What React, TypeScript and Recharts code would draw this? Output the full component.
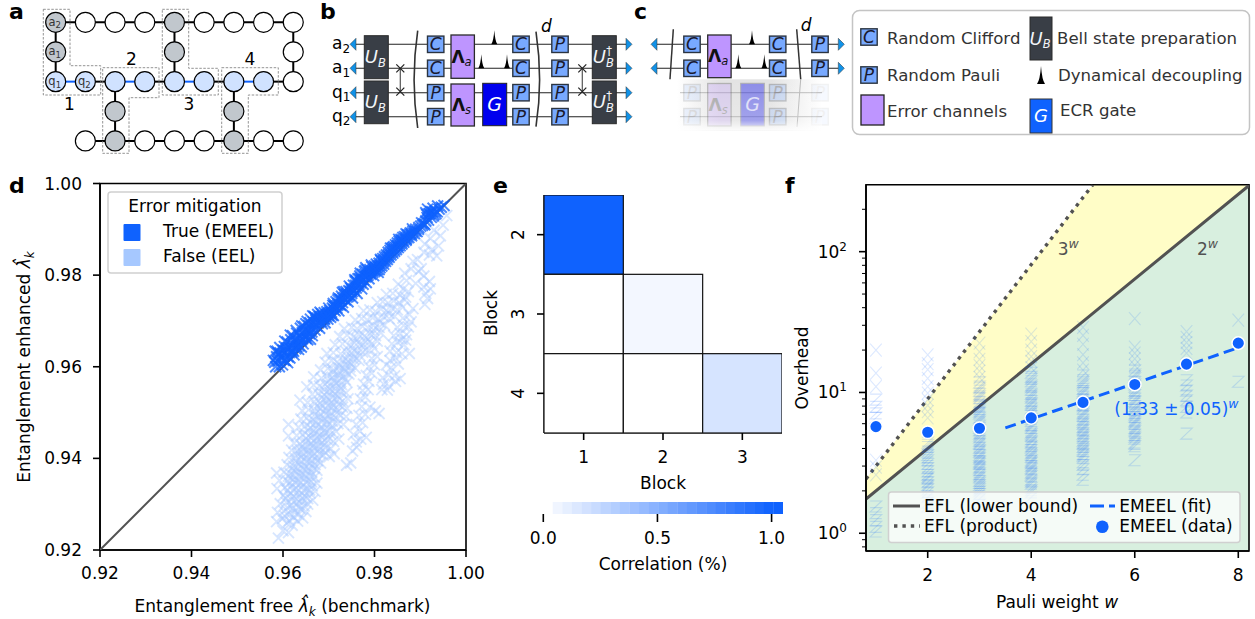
import React from 'react';
import { ScatterChart, ComposedChart, Scatter, Line, Area, XAxis, YAxis, Label, ReferenceArea } from 'recharts';

const BLUE = '#0f62fe';
const LIGHT = '#a6c8ff';
const INK = '#525252';
const FS = 17;

// ---------- panel a (lattice, in grid units) ----------
const latticeGrey = [[0,0],[4,0],[0,1],[4,1],[2,3],[6,3],[2,4],[6,4]];
const latticeBlue = [[0,2],[1,2],[2,2],[3,2],[4,2],[5,2],[6,2],[7,2]];
const latticeWhite = [[1,0],[2,0],[3,0],[5,0],[6,0],[7,0],[8,0],[8,1],[8,2],[1,4],[3,4],[4,4],[5,4],[7,4],[8,4]];
const latticeBlackEdges = [
  [[0,0],[8,0]],[[0,0],[0,2]],[[4,0],[4,2]],[[8,0],[8,2]],[[1,2],[2,2]],[[3,2],[4,2]],[[5,2],[6,2]],[[7,2],[8,2]],
  [[2,2],[2,4]],[[6,2],[6,4]],[[1,4],[8,4]],
];
const latticeBlueEdges = [[[0,2],[1,2]],[[2,2],[3,2]],[[4,2],[5,2]],[[6,2],[7,2]]];
const latticeNames: Record<string,[string,string]> = { '0,0':['a','2'], '0,1':['a','1'], '0,2':['q','1'], '1,2':['q','2'] };

// ---------- panel d ----------
const diagonal = [920, 1000];
const emeelPoints = [
[958.2,961.0],[958.4,960.0],[958.6,962.2],[958.9,961.2],[959.2,960.0],[959.4,963.0],[959.7,961.8],[959.9,960.4],[960.1,962.8],[960.3,964.4],[960.5,961.4],[960.7,963.4],[960.9,965.4],[961.1,962.2],[961.3,964.2],[961.5,961.9],[961.7,965.9],[961.9,963.2],[962.1,966.8],[962.2,964.8],[962.4,962.6],[962.6,966.0],[962.8,963.9],[963.0,967.3],[963.2,965.2],[963.4,963.8],[963.6,966.8],[963.8,968.4],[964.0,965.6],[964.2,967.4],[964.4,965.0],[964.6,968.8],[964.8,966.6],[965.0,969.4],[965.2,967.8],[965.4,965.9],[965.6,969.0],[965.8,967.2],[966.0,970.4],[966.2,968.4],[966.4,966.8],[966.6,969.8],[966.8,971.0],[967.0,968.0],[967.2,970.2],[967.4,968.9],[967.6,971.4],[967.8,969.6],[968.0,968.4],[968.2,970.9],[968.4,971.6],[968.6,969.4],[968.8,970.4],[969.0,971.8],[969.2,969.6],[969.4,971.0],[969.6,972.0],[969.8,970.4],[970.0,971.5],[970.2,972.3],[970.4,970.8],[970.6,971.9],[970.8,972.8],[971.0,971.2],[971.2,973.2],[971.4,972.2],[971.6,974.2],[971.8,972.8],[972.0,973.8],[972.2,972.2],[972.4,974.8],[972.6,973.4],[972.8,975.4],[973.0,974.0],[973.2,973.0],[973.4,975.8],[973.6,974.6],[973.8,976.4],[974.0,975.2],[974.2,974.2],[974.4,976.6],[974.6,975.6],[974.8,977.2],[975.0,976.0],[975.2,975.0],[975.4,977.8],[975.6,976.6],[975.8,978.6],[976.0,977.2],[976.2,976.0],[976.4,979.2],[976.6,978.0],[976.8,979.8],[977.0,978.4],[977.2,977.0],[977.4,980.2],[977.6,979.0],[977.8,980.8],[978.0,979.6],[978.2,978.4],[978.4,981.2],[978.6,980.0],[978.8,979.2],[979.0,981.2],[979.2,980.2],[979.4,981.8],[979.6,980.6],[979.8,979.9],[980.0,982.0],[980.2,981.0],[980.4,982.4],[980.6,981.2],[980.8,980.6],[981.0,982.6],[981.2,981.6],[981.4,983.2],[981.6,982.0],[981.8,983.6],[982.0,982.4],[982.2,984.0],[982.4,983.0],[982.6,984.4],[982.8,983.4],[983.0,985.0],[983.2,983.9],[983.4,985.4],[983.6,984.4],[983.8,985.8],[984.0,984.8],[984.2,986.2],[984.4,985.2],[984.6,986.6],[984.8,985.6],[985.0,987.0],[985.2,986.0],[985.4,987.4],[985.6,986.4],[985.8,987.8],[986.0,986.8],[986.2,988.2],[986.4,987.2],[986.6,988.4],[986.9,987.6],[987.2,988.8],[987.5,988.2],[987.8,989.2],[988.1,988.6],[988.4,989.6],[988.7,989.1],[989.0,990.0],[989.3,989.5],[989.7,990.4],[990.1,990.7],[990.5,990.9],[990.8,991.2],[991.2,991.8],[991.5,992.6],[991.8,992.0],[992.1,993.4],[992.4,992.6],[992.7,993.8],[993.0,993.2],[993.3,994.0],[993.7,993.8],[994.1,994.4],[994.6,994.8],[995.2,995.2],
[959.0,963.0],[960.0,963.6],[961.0,960.9],[962.0,963.6],[963.0,964.4],[964.0,964.3],[965.0,966.2],[966.0,966.0],[967.0,970.8],[968.0,970.0],[969.0,970.6],[970.0,972.8],[971.0,973.8],[972.0,974.6],[973.0,976.2],[974.0,976.0],[975.0,976.8],[976.0,978.8],[977.0,979.4],[978.0,981.0],[979.0,980.4],[980.0,980.8],[981.0,981.2],[982.0,983.2],[983.0,984.2],[984.0,986.0],[985.0,986.4],[986.0,987.6],[987.0,987.9],[988.0,988.9],
];
const emeelDense = [
[958.7,963.4],[959.5,962.1],[960.2,961.4],[960.8,964.1],[961.4,963.1],[961.8,964.6],[962.3,963.4],[962.7,965.3],[963.1,966.1],[963.5,964.6],[963.9,966.2],[964.3,966.1],[964.7,967.8],[965.1,966.8],[965.5,968.2],[965.9,969.6],[966.3,967.6],[966.7,968.9],[967.1,969.5],[967.5,970.6],[967.9,970.9],[968.3,969.9],[968.7,971.1],[969.1,970.4],[969.5,971.4],[969.9,971.1],[970.3,971.7],[970.7,971.3],[971.1,972.5],[971.5,973.2],[971.9,973.4],[972.3,973.6],[972.7,974.6],[973.1,974.9],[973.5,975.2],[973.9,975.7],[974.3,975.4],[974.7,976.4],[975.1,976.4],[975.5,977.0],[975.9,977.8],[976.3,977.6],[976.7,979.2],[977.1,979.0],[977.5,978.0],[977.9,980.2],[978.3,979.8],[978.7,980.6],[979.1,980.8],[979.5,981.0],[979.9,981.3],[980.3,981.7],[980.7,982.0],[981.1,982.1],[981.5,982.6],[981.9,982.9],[982.3,983.5],[982.7,983.9],[983.1,984.5],[983.5,984.9],[983.9,985.2],[984.3,985.6],[984.7,986.1],[985.1,986.4],[985.5,986.9],[985.9,987.2],[986.3,987.6],[986.7,988.0],[987.1,988.3],[987.6,988.8],[988.2,989.2],[988.9,989.6],[989.6,990.0],[990.3,991.4],[991.0,991.0],[991.4,993.2],[991.9,993.4],[992.3,993.9],[992.8,992.9],[993.4,993.4],
[957.9,961.4],[958.3,963.4],[959.3,964.2],[960.4,965.6],[961.6,966.9],[962.9,967.9],[964.1,968.9],[965.3,969.9],[966.5,971.1],[968.1,971.9],[970.9,973.4],[972.1,975.0],[973.3,976.4],[974.5,977.6],[975.7,979.0],[976.9,980.4],[978.1,981.6],[979.3,982.2],[981.3,983.4],[983.5,985.9],[985.3,987.8],[986.9,989.0],[988.3,990.1],[991.2,993.6],[991.6,994.4],[992.8,994.6],[993.8,995.1],
];
const eelPoints = [
[959,922.6],[960,924.2],[961.2,923.8],[958.6,926.2],[959.8,926.8],[960.9,925.9],[962,925.4],[963.2,926.3],[964.3,927],[958.8,928.2],[960.2,928.5],[961.5,927.8],[962.6,928.2],[963.9,928.9],[965,928.4],
[959.4,930.1],[960.7,930.4],[961.9,929.8],[963,930.2],[964.2,930.6],[965.4,930],[966.5,930.9],[960.1,931.9],[961.3,932.2],[962.4,931.7],[963.6,932.1],[964.8,931.8],[965.9,932.4],[967,932.8],
[958.7,933.4],[960.4,933.6],[961.7,933.9],[962.9,933.5],[964.1,933.8],[965.3,933.4],[966.4,934],[967.4,934.6],[959.2,935.2],[960.9,935.1],[962.2,935.4],[963.4,935.2],[964.6,935.6],[965.8,935.3],[966.9,935.9],[958.6,936.8],[960.2,937],[961.6,936.6],[962.8,937.1],[964,936.8],[965.2,937.2],[966.3,937],[967.4,937.4],
[960.9,938.6],[962.3,938.3],[963.5,938.7],[964.7,938.4],[965.9,938.9],[967,938.6],[968.2,939],[973.9,938.5],[974.8,939],[961.3,940.2],[962.7,940],[964,940.3],[965.2,940.1],[966.4,940.5],[967.6,940.2],[968.8,940.7],[970.1,940.4],[971.2,941],
[961.9,941.8],[963.2,941.6],[964.4,942],[965.6,941.7],[966.8,942.2],[968,941.9],[969.2,942.3],[970.4,942.1],[975.2,941.6],[976.1,942.4],[962.4,943.3],[963.7,943.2],[965,943.6],[966.2,943.3],[967.4,943.8],[968.6,943.5],[969.8,944],[971,943.7],[972.2,944.2],[976,943.6],[977,944.2],
[961.2,944.9],[963,945],[964.3,945.2],[965.6,944.9],[966.8,945.4],[968,945.1],[969.2,945.6],[970.4,945.3],[971.6,945.9],[975.4,945.2],[976.8,945.9],[978.2,944.6],
[961.2,947.4],[963.4,946.8],[964.8,947],[966,946.7],[967.2,947.2],[968.4,946.9],[969.6,947.4],[970.8,947.1],[972,947.6],[973.2,947.4],[976,947.4],[977.4,947.8],
[963.9,948.6],[965.2,948.8],[966.5,948.5],[967.8,949],[969,948.7],[970.2,949.2],[971.4,948.9],[972.6,949.4],[973.8,949.1],[976.6,949.4],[978,949.6],[980.2,950.4],[964.2,950.4],[965.6,950.6],[966.9,950.3],[968.2,950.8],[969.4,950.5],[970.6,951],[971.8,950.7],[973,951.2],[974,950.9],[977.2,951.3],[979,951.2],[981,949.8],
[963.7,952.7],[965.4,952.2],[966.8,952.4],[968.1,952.1],[969.4,952.6],[970.6,952.3],[971.8,952.8],[973,952.5],[974.2,953],[976.9,953],[978,953.4],[966.4,954],[967.7,954.2],[969,953.9],[970.2,954.4],[971.4,954.1],[972.6,954.6],[973.8,954.3],[977.4,954.8],[978.6,955],
[965.2,955.6],[966.7,956],[968,955.8],[969.2,956.2],[970.4,955.9],[971.6,956.4],[972.8,956.1],[974,956.6],[977.6,956.2],[978.8,956.8],[982,956.2],[983.2,955.7],[984.6,956.8],[966.7,957.8],[968.4,957.5],[969.6,958],[970.8,957.7],[972,958.2],[973.2,957.9],[974.4,958.4],[978.2,958.1],[979.4,958.6],[981.8,957.6],[983,958.2],[984.4,958],[985.6,957.4],
[968.2,959.3],[969.8,959.6],[971,959.3],[972.2,959.8],[973.4,959.5],[974.6,960],[975.8,959.7],[978.8,960],[980,960.4],[983.6,959.8],[969.2,961],[970.6,961.3],[971.8,961],[973,961.5],[974.2,961.2],[975.4,961.7],[976.6,961.4],[979.4,961.8],[980.6,962.2],[983.4,961.4],[984.6,961.9],
[969.6,962.9],[971,963.1],[972.6,962.8],[973.8,963.3],[975,963],[976.2,963.5],[977.4,963.2],[978.8,963.6],[980,964],[983.4,963.4],[984.8,963.1],[986,962.8],[987.6,962.9],[971.4,964.8],[973,965],[974.4,964.7],[975.6,965.2],[976.8,964.9],[978,965.4],[979.4,965],[980.6,965.6],[983.8,965],[985,965.4],[986.4,964.8],
[972.4,966.6],[974,966.9],[975.4,966.5],[976.6,967],[977.8,966.7],[979,967.2],[980.2,966.8],[981.4,967.4],[984.2,966.8],[985.6,967.3],[987,967],[973.4,968.3],[975,968.6],[976.2,968.3],[977.4,968.8],[978.6,968.5],[979.8,969],[981,968.6],[982.2,969.1],[985,968.6],[986.4,969],[987.4,968.7],
[975.8,970.2],[977.2,970.5],[978.4,970.2],[979.6,970.7],[980.8,970.4],[982,970.9],[983.2,970.5],[984.4,971],[986.2,970.6],[987.6,971.4],[977.6,972.2],[979,972.4],[980.2,972.1],[981.4,972.6],[982.6,972.3],[983.8,972.8],[985,972.4],[986.2,973],[988.4,972.7],[980.6,974],[981.8,974.2],[983,973.9],[984.2,974.4],[985.4,974],[986.6,974.6],[991,973.6],[991.6,974.9],[982.6,975.8],[984,976],[985.6,975.6],[986.3,977],[987.4,976.4],[991.2,976],[992.2,977],[990.8,977.4],[985.2,978],[987,978.8],[992,978.6],[986.6,980.4],[988,981.4],[989.6,980.8],[990.2,981.4],[988.4,983],[990.8,985],[992,984.4],[993.6,984.2],[991,986.8],[992.2,988],[994,986.4],[993,989.8],[995,990.9],[995.8,993],
];
const eelDense = [
[960.4,927.4],[961.4,926.4],[962.4,927.1],[963.4,927.8],[961,929.2],[962.2,929.1],[963.4,929.4],[964.6,929.6],[960.6,931.2],[961.8,931],[963,931.1],[964.2,931.3],[965.4,931.2],[961,933],[962.2,932.9],[963.4,933],[964.6,932.9],[965.8,933.1],[961.4,934.6],[962.6,934.7],[963.8,934.6],[965,934.8],[966.2,934.9],[961.2,936.1],[962.4,936.2],[963.6,936.1],[964.8,936.3],[966,936.2],[962,937.8],[963.2,937.8],[964.4,937.7],[965.6,937.9],[966.8,937.9],[962.8,939.4],[964,939.4],[965.2,939.3],[966.4,939.5],[967.6,939.5],[963.2,941],[964.4,941],[965.6,941],[966.8,941.1],[968,941.1],[969.2,941.3],[964.2,942.6],[965.4,942.6],[966.6,942.7],[967.8,942.7],[969,942.9],[965,944.3],[966.2,944.4],[967.4,944.4],[968.6,944.5],[969.8,944.7],[965.4,946],[966.6,946],[967.8,946],[969,946.1],[970.2,946.2],[966,947.8],[967.2,947.9],[968.4,947.9],[969.6,948],[970.8,948.1],[967,949.6],[968.2,949.7],[969.4,949.7],[970.6,949.9],[971.8,950],[967.4,951.4],[968.6,951.5],[969.8,951.5],[971,951.6],[972.2,951.8],[968.4,953.2],[969.6,953.3],[970.8,953.3],[972,953.5],[969,955],[970.2,955.1],[971.4,955.2],[972.6,955.3],[970,956.9],[971.2,957],[972.4,957],[973.6,957.2],[971,958.8],[972.4,958.9],[973.6,958.9],[974.8,959.1],[972.4,960.4],[973.6,960.5],[974.8,960.6],[975.6,962.2],[974.2,962.1],[976.8,962.4],[977.6,964.2],[975.2,964],[978.6,966],[976.2,966],[979.8,968],[981.2,969.7],[983.2,971.6],
[981.6,955],[982.8,954.9],[986.8,965.8],[982.6,960.4],[985.2,960.6],[986,966],[988,969.8],[986.8,975.2],[989,978.2],[990.8,979.8],[989.4,983.4],[992.6,985.6],[994.4,988.6],
];

// ---------- panel e ----------
const blockColumns = [1, 2, 3];
const blockRows = [2, 3, 4];
const correlationCells = [
  { x: 1, y: 2, v: 1.0 }, { x: 1, y: 3, v: 0 }, { x: 2, y: 3, v: 0.05 },
  { x: 1, y: 4, v: 0 }, { x: 2, y: 4, v: 0 }, { x: 3, y: 4, v: 0.17 },
];
const colorbarLevels = [0.063,0.105,0.147,0.189,0.231,0.273,0.315,0.357,0.399,0.441,0.483,0.525,0.567,0.609,0.651,0.693,0.735,0.777,0.819,0.861,0.903,0.945,0.987,1.029];
const colorbarTicks = [0, 0.5, 1];

// ---------- panel f ----------
const eflW = [0.808, 5.19, 8.207];
const eflLower = [1.75, 36.5, 295];
const eflProduct = [2.43, 299, 299];
const fitW = [3.5, 8];
const fitValues = [5.6, 20.8];
const pauliW = [1, 2, 3, 4, 5, 6, 7, 8];
const emeelOverhead = [5.72, 5.22, 5.57, 6.6, 8.5, 11.4, 15.9, 22.4];
const overheadCrosses: [number, number[]][] = [
  [1, [20, 13.7, 11, 3.3, 2.95, 2.6]],
  [2, [18.5, 16, 14.5, 12.6, 11, 9.9, 8.9, 8.1, 7.3, 6.6]],
  [3, [22.4, 19.4, 17.2, 15.5, 14.2, 12.8]],
  [4, [26, 23, 20, 18, 16.6, 15]],
  [5, [29, 25.4, 22, 18.6, 16.2, 14.4]],
  [6, [33.5, 21, 19, 17.3, 15.6]],
  [7, [27, 24.6, 22.6, 20.6, 19]],
  [8, [32.7]],
];
const overheadZigzags: [number, number[]][] = [
  [1, [8.9, 7.9, 7.1, 6.6, 1.55, 1.39, 1.24, 1.11, 1.03]],
  [2, [4.4, 4.1, 3.8, 3.6, 3.3, 3.1, 2.9, 2.75, 2.6, 2.45, 2.3, 2.2, 2.05, 1.95, 1.8, 1.65, 1.55, 4.25, 3.45, 2.5, 2.15]],
  [3, [11.8, 11, 10.3, 9.7, 9.1, 8.5, 8, 7.6, 7.1, 6.6, 6.2, 5.8, 5.4, 5.1, 4.8, 4.55, 4.3, 4.05, 3.8, 3.6, 3.4, 3.25, 3.1, 2.95, 2.8, 2.65, 2.5, 2.35, 2.2, 2.05, 1.9, 1.75, 1.6,
       10.7, 9.4, 8.2, 7.3, 6.4, 5.6, 4.95, 4.4, 3.9, 3.5, 3.18, 2.88, 2.58, 2.28, 2.12, 1.98]],
  [4, [13.8, 12.9, 12, 11.2, 10.5, 9.8, 9.2, 8.7, 8.2, 7.7, 7.2, 6.8, 6.3, 5.9, 5.6, 5.2, 4.9, 4.65, 4.4, 4.15, 3.9, 3.7, 3.5, 3.3, 3.15, 3, 2.85, 2.7, 2.55, 2.4, 2.25, 2.1, 1.95, 1.8,
       12.5, 10.9, 9.5, 8.4, 7.4, 6.5, 5.75, 5.05, 4.5, 4.05, 3.6, 3.22, 2.92, 2.62, 2.33, 2.02]],
  [5, [13.2, 12.2, 11.4, 10.6, 9.9, 9.3, 8.8, 8.2, 7.7, 7.2, 6.8, 6.4, 6, 5.7, 5.4, 5.1, 4.8, 4.55, 4.3, 4.1, 3.85, 3.65, 3.45, 3.2, 2.85, 2.6, 2.4,
       11.8, 10.2, 9, 8, 7, 6.2, 5.55, 4.95, 4.42, 3.95, 3.55, 3.05]],
  [6, [14.3, 13.4, 12.6, 11.8, 11, 10.3, 9.6, 9, 8.5, 8, 7.5, 7.1, 6.7, 6.3, 6, 5.6, 5.3, 5, 4.7, 4.4, 4.15, 3.3,
       13, 11.4, 9.9, 8.7, 7.7, 6.9, 6.15, 5.45, 4.85, 4.3]],
  [7, [12.2, 11.2, 10.3, 9.5, 8.8, 7.9, 7.2, 5.1]],
  [8, [11.9]],
];

const f1 = (v: number) => v.toFixed(2);
const colorFor = (v: number) => {
  const c = (a: number, b: number) => Math.round(a + (b - a) * v);
  return v <= 0 ? '#ffffff' : `rgb(${c(255, 15)},${c(255, 98)},${c(255, 254)})`;
};

const CrossMark = (stroke: string, opacity: number, rx: number, ry: number, w: number) => (p: any) => (
  <path d={`M${p.cx - rx} ${p.cy - ry}L${p.cx + rx} ${p.cy + ry}M${p.cx - rx} ${p.cy + ry}L${p.cx + rx} ${p.cy - ry}`}
    stroke={stroke} strokeOpacity={opacity} strokeWidth={w} fill="none" />
);
const ZigMark = (stroke: string, opacity: number, rx: number, ry: number, w: number) => (p: any) => (
  <path d={`M${p.cx - rx} ${p.cy - ry}L${p.cx + rx} ${p.cy - ry}L${p.cx - rx} ${p.cy + ry}L${p.cx + rx} ${p.cy + ry}`}
    stroke={stroke} strokeOpacity={opacity} strokeWidth={w} fill="none" />
);

const tickStyle = { fontSize: FS, fill: '#000' };
const axisLine = { stroke: '#000', strokeWidth: 1.6 };
const tickLine = { stroke: '#000', strokeWidth: 1.6 };

const at = (left: number, top: number): React.CSSProperties => ({ position: 'absolute', left, top });

function LatticeChart() {
  const node = (fill: string) => (p: any) => {
    const k = `${p.payload.x},${p.payload.y}`;
    const n = latticeNames[k];
    return (
      <g>
        <circle cx={p.cx} cy={p.cy} r={10} fill={fill} stroke="#000" strokeWidth={1.2} />
        {n && <text x={p.cx - 1} y={p.cy + 3.5} textAnchor="middle" fontSize={11.5} fill="#333">{n[0]}<tspan fontSize={8.5} dy={2.5}>{n[1]}</tspan></text>}
      </g>
    );
  };
  const toPts = (l: number[][]) => l.map(([x, y]) => ({ x, y }));
  return (
    <div style={at(0, 0)}>
      <ScatterChart width={320} height={165} margin={{ left: 0, right: 0, top: 0, bottom: 0 }}>
        <XAxis type="number" dataKey="x" hide domain={[-1.875, 8.9]} allowDataOverflow />
        <YAxis type="number" dataKey="y" hide domain={[-0.752, 4.81]} reversed allowDataOverflow />
        {latticeBlackEdges.map((e, i) => (
          <Scatter key={'k' + i} data={toPts(e)} line={{ stroke: '#000', strokeWidth: 2 }} shape={() => null as any} isAnimationActive={false} />
        ))}
        {latticeBlueEdges.map((e, i) => (
          <Scatter key={'b' + i} data={toPts(e)} line={{ stroke: BLUE, strokeWidth: 2 }} shape={() => null as any} isAnimationActive={false} />
        ))}
        <Scatter data={toPts(latticeWhite)} shape={node('#ffffff')} isAnimationActive={false} />
        <Scatter data={toPts(latticeGrey)} shape={node('#c1c7cd')} isAnimationActive={false} />
        <Scatter data={toPts(latticeBlue)} shape={node('#d0e2ff')} isAnimationActive={false} />
      </ScatterChart>
    </div>
  );
}

function ScatterD() {
  const toPts = (l: number[][]) => l.map(([x, y]) => ({ x: x / 1000, y: y / 1000 }));
  const diag = diagonal.map((v) => ({ x: v / 1000, y: v / 1000 }));
  const ticks = [0.92, 0.94, 0.96, 0.98, 1];
  return (
    <div style={at(0, 170)}>
      <ScatterChart width={500} height={449} margin={{ left: 40, right: 34, top: 13.5, bottom: 39 }}>
        <XAxis type="number" dataKey="x" domain={[0.92, 1]} ticks={ticks} tickFormatter={f1} interval={0} allowDataOverflow height={30}
          tick={tickStyle} axisLine={axisLine} tickLine={tickLine} tickSize={7} tickMargin={10}>
          <Label content={() => (
            <text x={282.5} y={442} textAnchor="middle" fontSize={FS} fill="#000">Entanglement free <tspan fontStyle="italic">λ̂</tspan><tspan fontSize={12} dy={4} fontStyle="italic">k</tspan><tspan dy={-4}> (benchmark)</tspan></text>
          )} />
        </XAxis>
        <YAxis type="number" dataKey="y" domain={[0.92, 1]} ticks={ticks} tickFormatter={f1} interval={0} allowDataOverflow width={60}
          tick={tickStyle} axisLine={axisLine} tickLine={tickLine} tickSize={7} tickMargin={11}>
          <Label content={() => (
            <text transform="translate(30,197) rotate(-90)" textAnchor="middle" fontSize={FS} fill="#000">Entanglement enhanced <tspan fontStyle="italic">λ̂</tspan><tspan fontSize={12} dy={4} fontStyle="italic">k</tspan></text>
          )} />
        </YAxis>
        <Scatter data={toPts(eelPoints)} shape={CrossMark(LIGHT, 0.45, 5.5, 5.5, 1.9)} isAnimationActive={false} />
        <Scatter data={toPts(eelDense)} shape={CrossMark(LIGHT, 0.45, 5.5, 5.5, 1.9)} isAnimationActive={false} />
        <Scatter data={diag} line={{ stroke: INK, strokeWidth: 2 }} shape={() => null as any} isAnimationActive={false} />
        <Scatter data={toPts(emeelPoints)} shape={CrossMark(BLUE, 0.75, 5.5, 5.5, 2)} isAnimationActive={false} />
        <Scatter data={toPts(emeelDense)} shape={CrossMark(BLUE, 0.75, 5.5, 5.5, 2)} isAnimationActive={false} />
        <ReferenceArea x1={0.92} x2={1} y1={0.92} y2={1} fill="none" stroke="#000" strokeWidth={1.6} ifOverflow="visible" />
      </ScatterChart>
    </div>
  );
}

function HeatE() {
  const cell = (p: any) => (
    <rect x={p.cx - 39.67} y={p.cy - 39.67} width={79.33} height={79.33} fill={colorFor(p.payload.v)} stroke="#111" strokeWidth={1.2} />
  );
  return (
    <div style={at(480, 170)}>
      <ScatterChart width={320} height={330} margin={{ left: 24, right: 18, top: 25, bottom: 37 }}>
        <XAxis type="number" dataKey="x" domain={[0.5, 3.5]} ticks={blockColumns} interval={0} allowDataOverflow height={30}
          tick={tickStyle} axisLine={axisLine} tickLine={tickLine} tickSize={7} tickMargin={11}>
          <Label content={() => <text x={183} y={319} textAnchor="middle" fontSize={FS} fill="#000">Block</text>} />
        </XAxis>
        <YAxis type="number" dataKey="y" domain={[1.5, 4.5]} reversed ticks={blockRows} interval={0} allowDataOverflow width={40}
          axisLine={axisLine} tickLine={false} tickSize={0} tickMargin={0}
          tick={(p: any) => (
            <g>
              <line x1={p.x - 7} x2={p.x} y1={p.y} y2={p.y} stroke="#000" strokeWidth={1.6} />
              <text transform={`translate(${p.x - 20},${p.y}) rotate(-90)`} textAnchor="middle" fontSize={FS} fill="#000">{p.payload.value}</text>
            </g>
          )}>
          <Label content={() => <text transform="translate(17,143) rotate(-90)" textAnchor="middle" fontSize={FS} fill="#000">Block</text>} />
        </YAxis>
        <Scatter data={correlationCells} shape={cell} isAnimationActive={false} />
      </ScatterChart>
    </div>
  );
}

function ColorbarE() {
  const seg = (p: any) => <rect x={p.cx - 4.95} y={p.cy - 6} width={9.9} height={12} fill={colorFor(Math.min(1, p.payload.x))} />;
  return (
    <div style={at(480, 495)}>
      <ScatterChart width={320} height={100} margin={{ left: 63.3, right: 17, top: 7, bottom: 51 }}>
        <XAxis type="number" dataKey="x" domain={[0, 1.05]} ticks={colorbarTicks} tickFormatter={(v: number) => v.toFixed(1)} interval={0} allowDataOverflow height={30}
          tick={tickStyle} axisLine={false} tickLine={tickLine} tickSize={8} tickMargin={10}>
          <Label content={() => <text x={183} y={75} textAnchor="middle" fontSize={FS} fill="#000">Correlation (%)</text>} />
        </XAxis>
        <YAxis type="number" dataKey="y" hide domain={[0, 1]} allowDataOverflow />
        <Scatter data={colorbarLevels.map((x) => ({ x, y: 0.5 }))} shape={seg} isAnimationActive={false} />
      </ScatterChart>
    </div>
  );
}

function OverheadF() {
  const efl = eflW.map((x, i) => ({ x, lower: eflLower[i], product: eflProduct[i], floor: 0.748 }));
  const crosses = overheadCrosses.flatMap(([x, vs]) => vs.map((y) => ({ x, y })));
  const zigs = overheadZigzags.flatMap(([x, vs]) => vs.map((y) => ({ x, y })));
  const fit = fitW.map((x, i) => ({ x, fit: fitValues[i] }));
  const dots = pauliW.map((x, i) => ({ x, y: emeelOverhead[i] }));
  const majors = [1, 10, 100];
  const ticks = [0.8, 0.9, 1, 2, 3, 4, 5, 6, 7, 8, 9, 10, 20, 30, 40, 50, 60, 70, 80, 90, 100, 200];
  return (
    <div style={at(780, 170)}>
      <ComposedChart width={475} height={449} margin={{ left: 26, right: 6, top: 14.7, bottom: 38 }}>
        <XAxis type="number" dataKey="x" domain={[0.808, 8.207]} ticks={[2, 4, 6, 8]} interval={0} allowDataOverflow height={30}
          tick={tickStyle} axisLine={axisLine} tickLine={tickLine} tickSize={7} tickMargin={11}>
          <Label content={() => (
            <text x={277} y={438} textAnchor="middle" fontSize={FS} fill="#000">Pauli weight <tspan fontStyle="italic">w</tspan></text>
          )} />
        </XAxis>
        <YAxis type="number" dataKey="y" scale="log" domain={[0.748, 299]} ticks={ticks} interval={0} allowDataOverflow width={60}
          axisLine={axisLine} tickLine={false} tickSize={0} tickMargin={0}
          tick={(p: any) => {
            const v = p.payload.value;
            const major = majors.includes(v);
            return (
              <g>
                <line x1={p.x - (major ? 7 : 4)} x2={p.x} y1={p.y} y2={p.y} stroke="#000" strokeWidth={major ? 1.6 : 1} />
                {major && (
                  <text x={p.x - 19} y={p.y + 6} textAnchor="end" fontSize={FS} fill="#000">10<tspan fontSize={12} dy={-7}>{Math.round(Math.log10(v))}</tspan></text>
                )}
              </g>
            );
          }}>
          <Label content={() => <text transform="translate(28,198) rotate(-90)" textAnchor="middle" fontSize={FS} fill="#000">Overhead</text>} />
        </YAxis>
        <Area data={efl} dataKey={(d: any) => [d.lower, d.product]} type="linear" stroke="none" fill="#fffdc7" fillOpacity={1} dot={false} activeDot={false} isAnimationActive={false} />
        <Area data={efl} dataKey={(d: any) => [d.floor, d.lower]} type="linear" stroke="none" fill="#d8efdf" fillOpacity={1} dot={false} activeDot={false} isAnimationActive={false} />
        <Scatter data={crosses} shape={CrossMark(BLUE, 0.14, 5.8, 6.5, 1.1)} isAnimationActive={false} />
        <Scatter data={zigs} shape={ZigMark(BLUE, 0.17, 5.8, 5.5, 1.1)} isAnimationActive={false} />
        <Line data={efl.slice(0, 2)} dataKey="product" type="linear" stroke={INK} strokeWidth={3.4} strokeDasharray="3.4 5" dot={false} activeDot={false} isAnimationActive={false} />
        <Line data={efl} dataKey="lower" type="linear" stroke={INK} strokeWidth={3} dot={false} activeDot={false} isAnimationActive={false} />
        <Line data={fit} dataKey="fit" type="linear" stroke={BLUE} strokeWidth={3} strokeDasharray="11 5.5" dot={false} activeDot={false} isAnimationActive={false} />
        <Scatter data={dots} shape={(p: any) => <circle cx={p.cx} cy={p.cy} r={6.3} fill={BLUE} stroke="#fff" strokeWidth={1.5} />} isAnimationActive={false} />
        <ReferenceArea x1={0.808} x2={8.207} y1={0.748} y2={299} fill="none" stroke="#000" strokeWidth={1.6} ifOverflow="visible" />
      </ComposedChart>
    </div>
  );
}

// ---------- overlay helpers ----------
const Panel = ({ x, y, c }: any) => <text x={x} y={y} fontSize={22} fontWeight="bold" fill="#000">{c}</text>;
const Gate = ({ x, y, c, o = 1 }: any) => (
  <g opacity={o}>
    <rect x={x - 8.2} y={y - 8.2} width={16.4} height={16.4} fill="#78a9ff" stroke="#2b3440" strokeWidth={1.4} />
    <text x={x} y={y + 6} textAnchor="middle" fontSize={17} fontStyle="italic" fill="#1a1a2e">{c}</text>
  </g>
);
const UB = ({ x, y, w, h, dag }: any) => (
  <g>
    <rect x={x} y={y} width={w} height={h} fill="#393e46" stroke="#2a2a2a" strokeWidth={1} />
    <text x={x + w / 2 - 1} y={y + h / 2 + 6} textAnchor="middle" fontSize={18} fontStyle="italic" fill="#f2f4f8">U<tspan fontSize={11.5} dy={3.5}>B</tspan>{dag && <tspan fontSize={11.5} dx={-7.5} dy={-12} fontStyle="normal">†</tspan>}</text>
  </g>
);
const Lam = ({ x, y, h, s, o = 1 }: any) => (
  <g opacity={o}>
    <rect x={x} y={y} width={23.4} height={h} fill="#be95ff" stroke="#2b2b2b" strokeWidth={1.3} />
    <text x={x + 10.5} y={y + h / 2 + 6} textAnchor="middle" fontSize={17} fontWeight="bold" fill="#111">Λ<tspan fontSize={11.5} dy={3} fontStyle="italic" fontWeight="normal">{s}</tspan></text>
  </g>
);
const Pulse = ({ x, y }: any) => <path d={`M${x - 3} ${y}Q${x - 0.8} ${y - 3} ${x} ${y - 14}Q${x + 0.8} ${y - 3} ${x + 3} ${y}Z`} fill="#000" />;
const ArrowL = ({ x, y }: any) => <path d={`M${x} ${y}L${x + 6} ${y - 6}L${x + 6} ${y + 6}Z`} fill="#1192e8" stroke="#333" strokeWidth={0.5} />;
const ArrowR = ({ x, y }: any) => <path d={`M${x + 6} ${y}L${x} ${y - 6}L${x} ${y + 6}Z`} fill="#1192e8" stroke="#333" strokeWidth={0.5} />;
const Swap = ({ x, a, b }: any) => (
  <g stroke="#222" strokeWidth={1.2} fill="none">
    <path d={`M${x} ${a}L${x} ${b}`} stroke="#555" />
    <path d={`M${x - 4} ${a - 4}L${x + 4} ${a + 4}M${x - 4} ${a + 4}L${x + 4} ${a - 4}M${x - 4} ${b - 4}L${x + 4} ${b + 4}M${x - 4} ${b + 4}L${x + 4} ${b - 4}`} />
  </g>
);

const wireY = [44.3, 68.3, 92.7, 116.7];
const wireNames = [['a', '2'], ['a', '1'], ['q', '1'], ['q', '2']];
const blockOutlines = [
  '43.3,9.3 70,9.3 70,65.7 100.7,65.7 100.7,95 43.3,95',
  '102.7,67.7 159,67.7 159,97.7 129,97.7 129,153.3 102.7,153.3',
  '162.3,9.3 188.7,9.3 188.7,68.3 218.3,68.3 218.3,95 162.3,95',
  '221.7,67.7 278.3,67.7 278.3,95 248.3,95 248.3,153.3 221.7,153.3',
];
const blockNumbers = [[69.3, 110, '1'], [131.3, 65, '2'], [189, 110, '3'], [250, 65, '4']];

function Overlay() {
  return (
    <svg width={1255} height={619} style={{ position: 'absolute', left: 0, top: 0, pointerEvents: 'none' }}>
      <defs>
        <linearGradient id="fade" x1="0" x2="1" y1="0" y2="0">
          <stop offset="0" stopColor="#dcdcdc" stopOpacity="0" />
          <stop offset="0.3" stopColor="#dcdcdc" stopOpacity="0.8" />
          <stop offset="0.65" stopColor="#dcdcdc" stopOpacity="0.8" />
          <stop offset="1" stopColor="#dcdcdc" stopOpacity="0" />
        </linearGradient>
        <linearGradient id="fadeV" x1="0" x2="0" y1="0" y2="1">
          <stop offset="0" stopColor="#fff" stopOpacity="0" />
          <stop offset="0.8" stopColor="#fff" stopOpacity="0.2" />
          <stop offset="1" stopColor="#fff" stopOpacity="0.9" />
        </linearGradient>
      </defs>

      <Panel x={9} y={19} c="a" />
      <Panel x={320} y={19} c="b" />
      <Panel x={634} y={19} c="c" />
      <Panel x={9} y={193} c="d" />
      <Panel x={493} y={193} c="e" />
      <Panel x={785} y={193} c="f" />

      {/* panel a outlines */}
      {blockOutlines.map((p, i) => <polygon key={i} points={p} fill="none" stroke="#777" strokeWidth={0.8} strokeDasharray="2.5 1.5" />)}
      {blockNumbers.map(([x, y, t]: any) => <text key={t} x={x} y={y} textAnchor="middle" fontSize={17} fill="#000">{t}</text>)}

      {/* panel b */}
      {wireY.map((y) => <line key={y} x1={356} x2={626} y1={y} y2={y} stroke="#222" strokeWidth={1.1} />)}
      {wireY.map((y, i) => (
        <g key={'b' + y}>
          <ArrowL x={350} y={y} /><ArrowR x={626} y={y} />
          <text x={332} y={y + 5} fontSize={17} fill="#000">{wireNames[i][0]}<tspan fontSize={12} dy={3.5}>{wireNames[i][1]}</tspan></text>
        </g>
      ))}
      <UB x={364.3} y={35.7} w={24} h={43} /><UB x={364.3} y={81} w={24} h={42.7} />
      <UB x={592.3} y={35.7} w={24} h={43} dag /><UB x={592.3} y={81} w={24} h={42.7} dag />
      <Swap x={400.3} a={68.3} b={91.7} /><Swap x={582.3} a={68.3} b={91.7} />
      <path d="M417.7 30.7Q410.5 80 417.7 128" fill="none" stroke="#333" strokeWidth={1.6} />
      <path d="M536 31.7Q543.2 80 536 126.7" fill="none" stroke="#333" strokeWidth={1.6} />
      <text x={541} y={31.5} fontSize={17} fontStyle="italic" fill="#000">d</text>
      {['C', 'C', 'P', 'P'].map((c, i) => <Gate key={'g1' + i} x={435.7} y={wireY[i]} c={c} />)}
      {['C', 'C', 'P', 'P'].map((c, i) => <Gate key={'g2' + i} x={521} y={wireY[i]} c={c} />)}
      {['P', 'P', 'P', 'P'].map((c, i) => <Gate key={'g3' + i} x={560} y={wireY[i]} c={c} />)}
      <Lam x={451} y={35} h={43.3} s="a" />
      <Lam x={451} y={84} h={42} s="s" />
      <rect x={482.7} y={83.3} width={24} height={42.4} fill="#0000ee" stroke="#222" strokeWidth={1} />
      <text x={494.7} y={111} textAnchor="middle" fontSize={19} fontStyle="italic" fill="#fff">G</text>
      <Pulse x={494.3} y={44.3} /><Pulse x={481.3} y={68.3} /><Pulse x={507} y={68.3} />

      {/* panel c */}
      <line x1={657} x2={838.3} y1={44.3} y2={44.3} stroke="#222" strokeWidth={1.1} />
      <line x1={657} x2={838.3} y1={68.3} y2={68.3} stroke="#222" strokeWidth={1.1} />
      <ArrowL x={651} y={44.3} /><ArrowL x={651} y={68.3} /><ArrowR x={838.3} y={44.3} /><ArrowR x={838.3} y={68.3} />
      <path d="M673.3 29.3L670 79.3" fill="none" stroke="#333" strokeWidth={1.5} />
      <path d="M796.7 29.3L800.7 79.3" fill="none" stroke="#333" strokeWidth={1.5} />
      <text x={800.7} y={30.7} fontSize={17} fontStyle="italic" fill="#000">d</text>
      <Gate x={692} y={44.3} c="C" /><Gate x={692} y={68.3} c="C" />
      <Gate x={777.7} y={44.3} c="C" /><Gate x={777.7} y={68.3} c="C" />
      <Gate x={820} y={44.3} c="P" /><Gate x={820} y={68.3} c="P" />
      <Lam x={707.7} y={35} h={42.7} s="a" />
      <Pulse x={752} y={44.3} /><Pulse x={738.3} y={68.3} /><Pulse x={764.3} y={68.3} />
      <rect x={677} y={79.3} width={145} height={51.4} fill="url(#fade)" />
      <g opacity={0.3}>
        <line x1={680} x2={822} y1={92.7} y2={92.7} stroke="#333" /><line x1={680} x2={822} y1={116.7} y2={116.7} stroke="#333" />
        <path d="M800.7 79.3L797 127" fill="none" stroke="#333" />
      </g>
      <Gate x={692} y={92.7} c="P" o={0.15} /><Gate x={692} y={116.7} c="P" o={0.15} />
      <Gate x={777.7} y={92.7} c="P" o={0.28} /><Gate x={777.7} y={116.7} c="P" o={0.28} />
      <Gate x={820} y={92.7} c="P" o={0.06} /><Gate x={820} y={116.7} c="P" o={0.06} />
      <Lam x={707.7} y={83.5} h={42.5} s="s" o={0.28} />
      <rect x={740.7} y={83.3} width={23.6} height={42.7} fill="#0000ee" stroke="#555" opacity={0.38} />
      <text x={752.5} y={111} textAnchor="middle" fontSize={19} fontStyle="italic" fill="#fff" opacity={0.7}>G</text>
      <rect x={677} y={79.3} width={145} height={51.4} fill="url(#fadeV)" />

      {/* legend box for b/c */}
      <rect x={852.5} y={10.5} width={397} height={124} rx={7} fill="#fff" stroke="#c4c4c4" strokeWidth={1.5} />
      <Gate x={869} y={37} c="C" />
      <Gate x={869} y={75} c="P" />
      <rect x={861} y={95} width={23} height={30} fill="#be95ff" stroke="#222" strokeWidth={1.3} />
      <UB x={1030} y={17} w={22} h={43} />
      <path d="M1037 84Q1040 80 1041 66Q1042 80 1045 84Z" fill="#000" />
      <rect x={1030} y={99} width={22} height={34} fill={BLUE} stroke="#333" strokeWidth={1} />
      <text x={1041} y={122} textAnchor="middle" fontSize={18} fontStyle="italic" fill="#fff">G</text>
      <g fontSize={16.6} fill="#333">
        <text x={887} y={44}>Random Clifford</text>
        <text x={1057} y={44}>Bell state preparation</text>
        <text x={887} y={81}>Random Pauli</text>
        <text x={1058} y={81}>Dynamical decoupling</text>
        <text x={887} y={117}>Error channels</text>
        <text x={1060} y={116}>ECR gate</text>
      </g>

      {/* legend d */}
      <rect x={108} y={192} width={174} height={81} rx={3} fill="#fff" fillOpacity={0.85} stroke="#d0d0d0" strokeWidth={1.5} />
      <text x={195} y={212} textAnchor="middle" fontSize={FS} fill="#000">Error mitigation</text>
      <rect x={123.5} y={224} width={17} height={17} rx={1} fill={BLUE} />
      <rect x={123.5} y={249} width={17} height={17} rx={1} fill={LIGHT} />
      <text x={163} y={236.7} fontSize={FS} fill="#000">True (EMEEL)</text>
      <text x={163} y={262} fontSize={FS} fill="#000">False (EEL)</text>

      {/* panel f annotation and legend */}
      <text x={1057.7} y={255} fontSize={FS} fill={INK}>3<tspan fontSize={12.5} dy={-7} fontStyle="italic">w</tspan></text>
      <text x={1197} y={255} fontSize={FS} fill={INK}>2<tspan fontSize={12.5} dy={-7} fontStyle="italic">w</tspan></text>
      <text x={1114.3} y={415} fontSize={FS} fill={BLUE}>(1.33 ± 0.05)<tspan fontSize={12.5} dy={-7} fontStyle="italic">w</tspan></text>
      <rect x={888.5} y={492} width={351.5} height={50.5} rx={3} fill="#fff" fillOpacity={0.75} stroke="#d0d0d0" strokeWidth={1.5} />
      <line x1={893} x2={920} y1={506} y2={506} stroke={INK} strokeWidth={3} />
      <line x1={894} x2={920} y1={526} y2={526} stroke={INK} strokeWidth={3.4} strokeDasharray="3.4 5" />
      <line x1={1090} x2={1115} y1={506} y2={506} stroke={BLUE} strokeWidth={3} strokeDasharray="14 5" />
      <circle cx={1102.3} cy={526.7} r={6.3} fill={BLUE} />
      <g fontSize={FS} fill="#000">
        <text x={924} y={511.7}>EFL (lower bound)</text>
        <text x={924} y={531.7}>EFL (product)</text>
        <text x={1119.3} y={511.7}>EMEEL (fit)</text>
        <text x={1119.3} y={531.7}>EMEEL (data)</text>
      </g>
    </svg>
  );
}

export default function App() {
  return (
    <div style={{ position: 'absolute', left: 0, top: 0, width: 1255, height: 619, overflow: 'hidden', background: '#fff', fontFamily: '"DejaVu Sans", sans-serif' }}>
      <LatticeChart />
      <ScatterD />
      <HeatE />
      <ColorbarE />
      <OverheadF />
      <Overlay />
    </div>
  );
}
